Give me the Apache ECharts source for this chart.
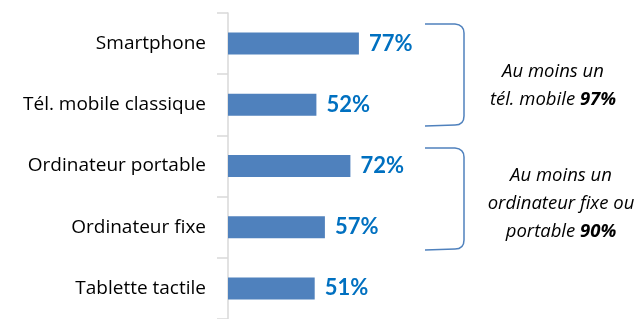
<!DOCTYPE html>
<html><head><meta charset="utf-8">
<script src="https://cdn.jsdelivr.net/npm/echarts@6/dist/echarts.min.js"></script>
<style>html,body{margin:0;padding:0;background:#fff}#c{width:638px;height:319px}</style>
</head><body><div id="c"></div>
<script>
const categories = ['Smartphone', 'Tél. mobile classique', 'Ordinateur portable', 'Ordinateur fixe', 'Tablette tactile'];
const values = [77, 52, 72, 57, 51];
const groupLabels = [['Au moins un', 'tél. mobile ', '97%'], ['Au moins un', 'ordinateur fixe ou', 'portable ', '90%']];

const chart = echarts.init(document.getElementById('c'), null, {renderer: 'canvas'});
const FONT = '"Open Sans", Lato, sans-serif';
const VFONT = 'Lato, "Open Sans", sans-serif';
const blue = '#4F81BD';
function bracket(x0, x1, y0, y1) {
  const st = {stroke: blue, lineWidth: 1.5, fill: null};
  return [
    {type: 'line', shape: {x1: x0, y1: y0, x2: x1 - 9, y2: y0}, style: st},
    {type: 'bezierCurve', shape: {x1: x1 - 9, y1: y0, cpx1: x1, cpy1: y0 + 1, x2: x1, y2: y0 + 9}, style: st},
    {type: 'line', shape: {x1: x1, y1: y0 + 9, x2: x1, y2: y1 - 9}, style: st},
    {type: 'bezierCurve', shape: {x1: x1, y1: y1 - 9, cpx1: x1, cpy1: y1, x2: x1 - 9, y2: y1}, style: st},
    {type: 'line', shape: {x1: x1 - 9, y1: y1, x2: x0, y2: y1 + 1}, style: st}
  ];
}
const richStyle = {
  i: {fontStyle: 'italic', fontSize: 18.5, fontFamily: FONT, fill: '#000', lineHeight: 28},
  b: {fontStyle: 'italic', fontWeight: 'bold', fontSize: 18.5, fontFamily: FONT, fill: '#000', lineHeight: 28}
};
chart.setOption({
  animation: false,
  grid: {left: 228, right: 240, top: 13, bottom: -3, containLabel: false},
  xAxis: {type: 'value', min: 0, max: 100, show: false},
  yAxis: {
    type: 'category', data: categories, inverse: true,
    axisLine: {show: true, lineStyle: {color: '#D9D9D9', width: 1.5}},
    axisTick: {show: true, length: 11, lineStyle: {color: '#D9D9D9', width: 1.5}},
    axisLabel: {margin: 22, color: '#000', fontSize: 19, fontFamily: FONT}
  },
  series: [{
    type: 'bar', data: values, barWidth: 22,
    itemStyle: {color: blue},
    label: {show: true, position: 'right', distance: 10, formatter: '{c}%',
      color: '#0070C0', fontWeight: 'bold', fontSize: 22, fontFamily: VFONT}
  }],
  graphic: [].concat(
    bracket(425, 464, 24, 125),
    bracket(425, 464, 148, 249),
    [
      {type: 'text', x: 553, y: 86,
        style: {text: '{i|' + groupLabels[0][0] + '}\n{i|' + groupLabels[0][1] + '}{b|' + groupLabels[0][2] + '}',
          align: 'center', verticalAlign: 'middle', lineHeight: 28, rich: richStyle}},
      {type: 'text', x: 561, y: 204,
        style: {text: '{i|' + groupLabels[1][0] + '}\n{i|' + groupLabels[1][1] + '}\n{i|' + groupLabels[1][2] + '}{b|' + groupLabels[1][3] + '}',
          align: 'center', verticalAlign: 'middle', lineHeight: 28, rich: richStyle}}
    ]
  )
});
</script></body></html>
